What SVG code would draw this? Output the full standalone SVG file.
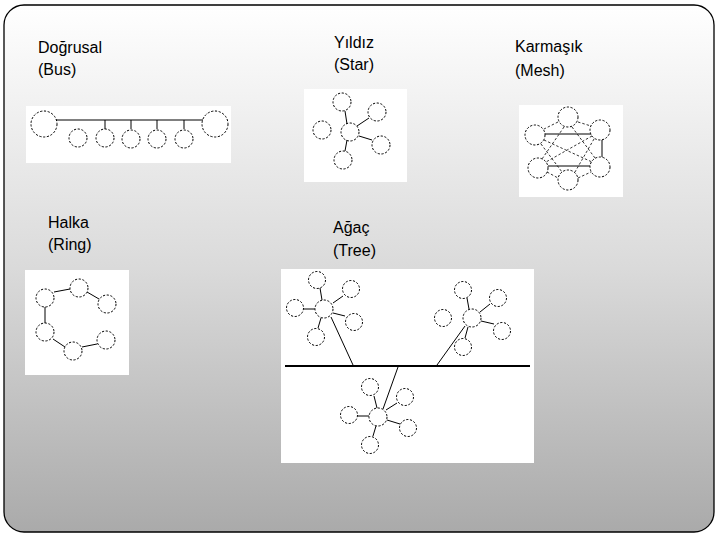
<svg xmlns="http://www.w3.org/2000/svg" width="720" height="540" viewBox="0 0 720 540">
<defs>
<linearGradient id="bg" x1="0" y1="0" x2="0" y2="1">
<stop offset="0" stop-color="#ffffff"/>
<stop offset="0.5" stop-color="#dadada"/>
<stop offset="1" stop-color="#aaaaaa"/>
</linearGradient>
</defs>
<style>
.lbl{font-family:"Liberation Sans",Arial,sans-serif;font-size:16px;fill:#000}
.panel{fill:#ffffff;stroke:none}
.n{fill:none;stroke:#000;stroke-width:1;stroke-dasharray:2.2,1.6}
.c{stroke:#000;stroke-width:1;fill:none}
.d{stroke:#000;stroke-width:0.8;fill:none;stroke-dasharray:2.5,2}
.bus{stroke:#000;stroke-width:2.2}
</style>
<rect x="4" y="5" width="710" height="527" rx="20" ry="20" fill="url(#bg)" stroke="#000" stroke-width="1.3"/>

<g id="labels">
<text class="lbl" x="38" y="53">Doğrusal</text>
<text class="lbl" x="38" y="75">(Bus)</text>
<text class="lbl" x="334" y="48">Yıldız</text>
<text class="lbl" x="334" y="70">(Star)</text>
<text class="lbl" x="515" y="52">Karmaşık</text>
<text class="lbl" x="515" y="76">(Mesh)</text>
<text class="lbl" x="48" y="228">Halka</text>
<text class="lbl" x="48" y="250">(Ring)</text>
<text class="lbl" x="333" y="233">Ağaç</text>
<text class="lbl" x="333" y="256">(Tree)</text>
</g>

<g id="panels">
<rect class="panel" x="26" y="106" width="205" height="57"/>
<rect class="panel" x="304" y="89" width="103" height="93"/>
<rect class="panel" x="519" y="105" width="104" height="92"/>
<rect class="panel" x="25" y="270" width="104" height="105"/>
<rect class="panel" x="281" y="269" width="253" height="194"/>
</g>

<g id="connectors">
<!-- bus -->
<line class="c" x1="56" y1="120" x2="203" y2="120"/>
<line class="c" x1="105" y1="120" x2="105" y2="129"/>
<line class="c" x1="131" y1="120" x2="131" y2="129"/>
<line class="c" x1="157" y1="120" x2="157" y2="129"/>
<line class="c" x1="184" y1="120" x2="184" y2="129"/>
<!-- star -->
<line class="c" x1="347" y1="124" x2="345" y2="111"/>
<line class="c" x1="357" y1="126" x2="369" y2="118"/>
<line class="c" x1="359" y1="136" x2="372" y2="140"/>
<line class="c" x1="347" y1="140" x2="345" y2="151"/>
<!-- mesh -->
<line class="c" x1="545" y1="134" x2="591" y2="134"/>
<line class="c" x1="548" y1="166" x2="590" y2="166"/>
<line class="c" x1="602" y1="140" x2="602" y2="157"/>
<line class="d" x1="558" y1="122" x2="544" y2="129"/>
<line class="d" x1="578" y1="122" x2="591" y2="126"/>
<line class="d" x1="564" y1="127" x2="542" y2="159"/>
<line class="d" x1="572" y1="127" x2="595" y2="158"/>
<line class="d" x1="544" y1="140" x2="592" y2="162"/>
<line class="d" x1="592" y1="136" x2="546" y2="162"/>
<line class="d" x1="541" y1="144" x2="562" y2="172"/>
<line class="d" x1="594" y1="139" x2="575" y2="172"/>
<line class="d" x1="547" y1="172" x2="558" y2="178"/>
<line class="d" x1="578" y1="178" x2="591" y2="172"/>
<!-- ring -->
<line class="c" x1="45" y1="307" x2="45" y2="323"/>
<line class="c" x1="54" y1="292" x2="70" y2="289"/>
<line class="c" x1="87" y1="292" x2="99" y2="299"/>
<line class="c" x1="53" y1="339" x2="65" y2="347"/>
<line class="c" x1="82" y1="347" x2="97" y2="344"/>
<!-- tree -->
<line class="bus" x1="285" y1="366" x2="530" y2="366"/>
<line class="c" x1="304" y1="309" x2="315" y2="309"/>
<line class="c" x1="322" y1="300" x2="320" y2="288"/>
<line class="c" x1="333" y1="303" x2="343" y2="296"/>
<line class="c" x1="333" y1="313" x2="345" y2="316"/>
<line class="c" x1="321" y1="318" x2="318" y2="328"/>
<line class="c" x1="331" y1="317" x2="353" y2="365"/>
<line class="c" x1="469" y1="309" x2="467" y2="298"/>
<line class="c" x1="480" y1="312" x2="490" y2="304"/>
<line class="c" x1="481" y1="321" x2="494" y2="324"/>
<line class="c" x1="468" y1="327" x2="465" y2="338"/>
<line class="c" x1="465" y1="326" x2="437" y2="365"/>
<line class="c" x1="358" y1="416" x2="369" y2="416"/>
<line class="c" x1="377" y1="408" x2="374" y2="396"/>
<line class="c" x1="386" y1="410" x2="397" y2="403"/>
<line class="c" x1="387" y1="420" x2="400" y2="424"/>
<line class="c" x1="376" y1="426" x2="373" y2="436"/>
<line class="c" x1="398" y1="367" x2="383" y2="409"/>
</g>

<g id="bus-nodes">
<circle class="n" cx="44" cy="124" r="13"/>
<circle class="n" cx="215" cy="124" r="13"/>
<circle class="n" cx="78" cy="138" r="9"/>
<circle class="n" cx="105" cy="138" r="9"/>
<circle class="n" cx="131" cy="139" r="9"/>
<circle class="n" cx="157" cy="139" r="9"/>
<circle class="n" cx="184" cy="139" r="9"/>
</g>

<g id="star-nodes">
<circle class="n" cx="350" cy="132" r="9"/>
<circle class="n" cx="342" cy="102" r="9"/>
<circle class="n" cx="377" cy="112" r="9"/>
<circle class="n" cx="381" cy="145" r="9"/>
<circle class="n" cx="343" cy="160" r="9"/>
<circle class="n" cx="322" cy="130" r="9"/>
</g>

<g id="mesh-nodes">
<circle class="n" cx="568" cy="117" r="10"/>
<circle class="n" cx="600" cy="130" r="10"/>
<circle class="n" cx="535" cy="135" r="10"/>
<circle class="n" cx="538" cy="168" r="10"/>
<circle class="n" cx="568" cy="180" r="10"/>
<circle class="n" cx="600" cy="167" r="10"/>
</g>

<g id="ring-nodes">
<circle class="n" cx="45" cy="298" r="9"/>
<circle class="n" cx="79" cy="288" r="9"/>
<circle class="n" cx="107" cy="304" r="9"/>
<circle class="n" cx="45" cy="332" r="9"/>
<circle class="n" cx="73" cy="351" r="9"/>
<circle class="n" cx="106" cy="340" r="9"/>
</g>

<g id="tree-nodes">
<circle class="n" cx="324" cy="309" r="9"/>
<circle class="n" cx="317" cy="280" r="8.5"/>
<circle class="n" cx="351" cy="289" r="8.5"/>
<circle class="n" cx="295" cy="308" r="8.5"/>
<circle class="n" cx="354" cy="322" r="8.5"/>
<circle class="n" cx="316" cy="337" r="8.5"/>
<circle class="n" cx="472" cy="318" r="9"/>
<circle class="n" cx="463" cy="290" r="8.5"/>
<circle class="n" cx="498" cy="298" r="8.5"/>
<circle class="n" cx="443" cy="318" r="8.5"/>
<circle class="n" cx="502" cy="331" r="8.5"/>
<circle class="n" cx="463" cy="347" r="8.5"/>
<circle class="n" cx="378" cy="417" r="9"/>
<circle class="n" cx="370" cy="387" r="8.5"/>
<circle class="n" cx="405" cy="397" r="8.5"/>
<circle class="n" cx="349" cy="415" r="8.5"/>
<circle class="n" cx="408" cy="428" r="8.5"/>
<circle class="n" cx="370" cy="445" r="8.5"/>
</g>
</svg>
